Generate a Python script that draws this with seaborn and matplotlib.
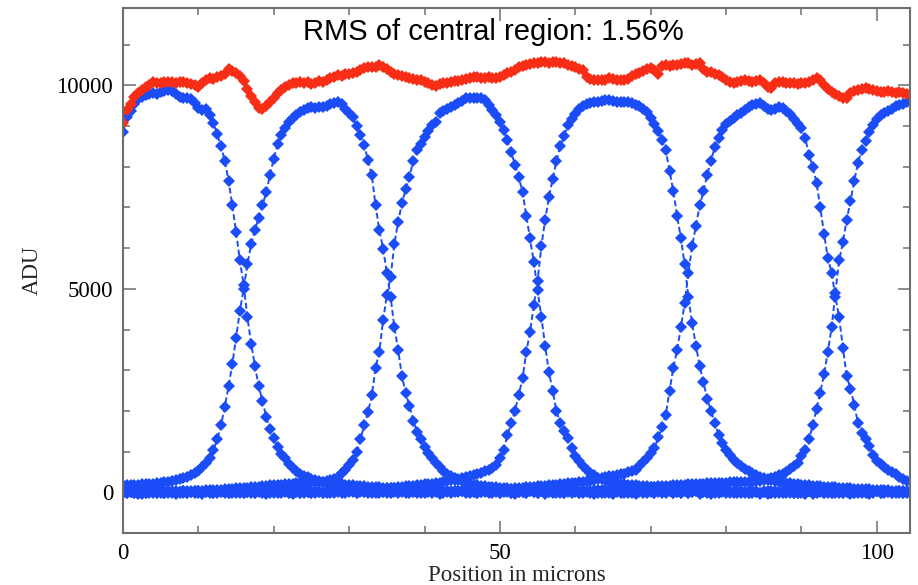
import numpy as np
import pandas as pd
import matplotlib
matplotlib.use("Agg")
import matplotlib.pyplot as plt
from matplotlib.ticker import MultipleLocator
import seaborn as sns

# Scan step along the slit (microns); one reading per step for every trace.
STEP = 0.5

# Individual diode responses (ADU) while the spot is scanned across the array.
diode_1 = [
    8850, 9210, 9380, 9550, 9660, 9720, 9760, 9780, 9800, 9790,
    9830, 9860, 9880, 9850, 9790, 9720, 9700, 9690, 9660, 9560,
    9440, 9390, 9430, 9260, 9070, 8800, 8500, 8150, 7650, 7050,
    6400, 5700, 5100, 4300, 3650, 3100, 2600, 2250, 1850, 1550,
    1330, 1110, 950, 840, 700, 600, 520, 460, 410, 370,
    330, 300, 280, 260, 240, 230, 220, 210, 200, 190,
    180, 175, 165, 160, 150, 140, 135, 125, 120, 110,
    105, 100, 95, 90, 85, 80, 75, 70, 65, 60,
    55, 50, 45, 45, 40, 35, 30, 30, 25, 20,
    20, 10, -10, 15, -20, 5, 25, -15, 0, 30,
    -25, 10, 35, -5, -30, 15, 0, -20, 25, 5,
    -10, 30, -35, 10, 20, -15, 5, -25, 15, 0,
    35, -10, -20, 25, 5, -30, 10, 20, -5, -15,
    30, 0, -25, 15, -10, 25, -30, 5, 20, -20,
    10, -5, 30, -15, 0, 20, -25, 15, -10, 35,
    -20, 5, 25, -30, 10, -5, 20, -15, 0, 30,
    -10, 15, -25, 20, 5, -20, 35, -5, 10, -30,
    25, 0, -15, 20, -25, 10, 30, -10, 5, -20,
    15, -30, 25, 0, -15, 20, 10, -25, 30, -5,
    -20, 15, 5, -30, 25, -10, 20, 0, -15, 10,
    30, -20, 5, 15, -25, 10, -5, 20, -10,
]

diode_2 = [
    170, 175, 180, 185, 190, 195, 200, 210, 215, 225,
    235, 245, 260, 275, 295, 320, 345, 380, 420, 470,
    530, 620, 720, 850, 1050, 1300, 1650, 2100, 2600, 3150,
    3800, 4450, 5000, 5600, 6100, 6450, 6750, 7050, 7370, 7800,
    8200, 8550, 8780, 8940, 9100, 9200, 9280, 9340, 9400, 9440,
    9460, 9440, 9470, 9460, 9500, 9540, 9560, 9580, 9540, 9430,
    9330, 9210, 9000, 8780, 8530, 8160, 7790, 7050, 6450, 5990,
    5400, 4800, 4050, 3500, 2850, 2450, 2120, 1760, 1480, 1300,
    1110, 970, 840, 720, 610, 530, 460, 410, 340, 300,
    270, 240, 210, 190, 170, 160, 150, 140, 130, 120,
    110, 105, 95, 90, 80, 75, 70, 60, 55, 50,
    45, 40, 35, 30, 25, 20, -10, 15, 25, -20,
    5, -25, 20, 10, -15, 30, -5, -20, 15, 0,
    -30, 20, 10, -10, 25, -20, 5, 30, -15, 0,
    20, -25, 10, 0, -20, 35, -10, 15, -5, 25,
    -15, 0, 20, -25, 15, 5, -30, 25, -10, 10,
    20, -20, 0, 30, -15, 10, -25, 20, 5, -10,
    15, -30, 25, -5, 10, -20, 20, 0, -15, 30,
    -10, 5, 20, -25, 15, 0, -20, 25, -5, 10,
    30, -15, 0, 20, -25, 10, 15, -20, 5, -10,
    20, 0, -25, 15, 10, -15, 25, -5, 0,
]

diode_3 = [
    15, -20, 10, 25, -10, 5, -25, 20, 0, -15,
    30, -5, 10, -20, 25, 5, 20, 15, 30, 25,
    35, 40, 45, 50, 55, 60, 65, 70, 80, 90,
    95, 100, 110, 115, 125, 130, 140, 150, 160, 170,
    180, 185, 190, 200, 205, 210, 220, 225, 235, 240,
    250, 255, 260, 265, 275, 290, 320, 380, 470, 560,
    680, 800, 980, 1300, 1650, 1970, 2380, 3050, 3450, 4230,
    4840, 5300, 6100, 6650, 7100, 7450, 7750, 8150, 8400, 8560,
    8720, 8880, 9020, 9110, 9310, 9380, 9420, 9470, 9520, 9560,
    9620, 9680, 9690, 9700, 9700, 9680, 9630, 9520, 9390, 9260,
    9100, 8900, 8650, 8350, 8050, 7750, 7370, 6800, 6240, 5650,
    4960, 4300, 3600, 2950, 2500, 2000, 1700, 1500, 1330, 1100,
    900, 770, 650, 560, 480, 420, 360, 320, 290, 260,
    240, 225, 210, 200, 190, 180, 170, 160, 155, 150,
    140, 135, 125, 120, 110, 105, 100, 95, 90, 80,
    75, 70, 65, 60, 55, 50, 40, 45, 35, 30,
    20, 35, 10, -15, 25, 0, -20, 15, 30, -10,
    5, 20, -25, 10, 0, 25, -15, 30, -5, -20,
    15, 0, 25, -30, 10, 20, -10, 5, -25, 30,
    0, -15, 20, 10, -20, 25, -5, 15, -30, 5,
    20, -10, 0, 25, -20, 10, 15, -25, 5,
]

diode_4 = [
    -10, 20, 5, -25, 15, 30, -15, 0, 25, -20,
    10, -5, 20, 15, -30, 5, 25, -10, 0, 20,
    -20, 15, 30, -5, 10, -25, 20, 5, -15, 25,
    0, -10, 30, 15, -20, 10, 25, -5, 5, 20,
    -15, 30, 0, 10, -25, 20, 15, -10, 25, 5,
    -20, 10, 30, -5, 15, 0, 20, 25, 10, 30,
    35, 40, 45, 50, 55, 60, 70, 75, 85, 90,
    100, 110, 115, 125, 135, 145, 155, 165, 175, 185,
    195, 205, 215, 225, 240, 255, 270, 290, 310, 335,
    360, 380, 400, 420, 450, 480, 520, 560, 600, 680,
    840, 1050, 1400, 1700, 2000, 2400, 2800, 3450, 3950, 4600,
    5200, 6050, 6700, 7250, 7700, 8150, 8500, 8750, 9020, 9170,
    9300, 9420, 9480, 9530, 9560, 9590, 9600, 9620, 9630, 9640,
    9610, 9600, 9580, 9590, 9580, 9560, 9520, 9480, 9420, 9350,
    9200, 9050, 8870, 8650, 8400, 7900, 7400, 6800, 6250, 5600,
    4800, 4150, 3600, 3100, 2700, 2300, 2000, 1700, 1420, 1200,
    1050, 920, 800, 710, 640, 580, 520, 470, 420, 370,
    340, 310, 290, 270, 250, 240, 230, 220, 210, 200,
    190, 180, 175, 165, 160, 150, 140, 135, 125, 120,
    110, 105, 100, 95, 90, 85, 80, 75, 70, 65,
    60, 55, 50, 45, 40, 40, 35, 30, 30,
]

diode_5 = [
    25, -15, 0, 20, -30, 10, 15, -20, 5, 30,
    -10, 20, -25, 0, 15, -5, 30, -15, 10, 0,
    20, -30, 15, 5, -10, 25, 0, -20, 30, -5,
    10, 20, -25, 15, 0, -15, 25, 10, -30, 5,
    20, -10, 0, 30, -20, 15, 5, -25, 20, 10,
    -15, 25, 0, -5, 30, -20, 10, 15, -25, 5,
    20, 0, -15, 25, 10, -20, 30, -5, 15, 0,
    -25, 20, 5, -10, 30, 15, -20, 0, 25, -10,
    10, 30, -15, 5, 20, -25, 15, 0, 30, 20,
    25, 30, 35, 40, 45, 50, 55, 60, 65, 70,
    75, 80, 85, 90, 100, 105, 110, 120, 125, 135,
    145, 150, 160, 170, 180, 190, 200, 210, 220, 230,
    240, 250, 260, 270, 285, 300, 320, 340, 365, 390,
    400, 420, 440, 460, 490, 520, 560, 650, 740, 840,
    960, 1080, 1350, 1600, 1900, 2500, 3050, 3500, 4050, 4640,
    5400, 6050, 6550, 7050, 7400, 7800, 8150, 8480, 8700, 8900,
    9050, 9120, 9200, 9270, 9320, 9400, 9460, 9510, 9550, 9570,
    9500, 9420, 9390, 9430, 9460, 9440, 9380, 9300, 9180, 9050,
    8950, 8700, 8300, 8000, 7600, 7000, 6350, 5750, 5400, 4800,
    4300, 3550, 2850, 2550, 2150, 1700, 1450, 1300, 1130, 920,
    780, 690, 620, 560, 500, 450, 380, 330, 280,
]

diode_6 = [
    -20, 10, 25, -5, 15, -30, 20, 5, -15, 30,
    0, -25, 15, 20, -10, 5, -20, 25, 10, -5,
    30, -15, 5, 20, -25, 10, 0, 15, -10, 25,
    -5, 20, -20, 10, 30, -15, 5, 0, 25, -25,
    15, 5, -10, 20, 0, -30, 25, 10, -15, 5,
    20, -20, 15, 0, -10, 30, -5, 20, 10, -25,
    5, 25, -15, 10, 0, 20, -20, 30, -5, 15,
    10, -25, 20, 0, 15, -10, 25, 5, -20, 30,
    -5, 15, 0, 20, -30, 10, 25, -15, 5, 0,
    20, -10, 30, 5, -20, 15, 0, 25, -15, 10,
    -5, 20, 10, -25, 30, 0, 15, -10, 20, 5,
    -20, 25, 0, 10, -15, 30, 5, -5, 20, 25,
    20, 25, 30, 35, 40, 45, 50, 55, 60, 65,
    70, 75, 80, 90, 95, 100, 110, 115, 120, 130,
    135, 140, 150, 155, 160, 165, 175, 180, 185, 190,
    195, 200, 205, 210, 215, 220, 225, 230, 235, 240,
    240, 245, 245, 250, 250, 255, 260, 265, 270, 280,
    300, 320, 350, 380, 420, 460, 510, 570, 640, 730,
    880, 1050, 1300, 1650, 2050, 2450, 2900, 3450, 4050, 4900,
    5700, 6150, 6700, 7150, 7650, 8100, 8420, 8620, 8850, 9020,
    9180, 9260, 9320, 9380, 9430, 9480, 9520, 9550, 9580,
]

# Combined signal of all diodes (ADU).
combined = [
    9066, 9386, 9550, 9705, 9800, 9880, 9950, 10000, 10074, 10050,
    10060, 10080, 10070, 10090, 10060, 10080, 10070, 10060, 10040, 10000,
    9950, 10050, 10120, 10170, 10150, 10200, 10220, 10280, 10390, 10360,
    10300, 10220, 10100, 9900, 9750, 9600, 9450, 9430, 9500, 9600,
    9700, 9800, 9880, 9950, 10000, 10050, 10060, 10070, 10050, 10080,
    10040, 10060, 10100, 10080, 10130, 10170, 10200, 10250, 10240, 10270,
    10290, 10300, 10340, 10380, 10420, 10440, 10460, 10450, 10490, 10460,
    10400, 10330, 10290, 10250, 10220, 10200, 10180, 10150, 10130, 10120,
    10080, 10050, 10010, 9990, 10030, 10050, 10060, 10080, 10100, 10110,
    10130, 10160, 10190, 10200, 10210, 10190, 10180, 10200, 10170, 10180,
    10200, 10250, 10300, 10330, 10380, 10440, 10480, 10500, 10520, 10550,
    10560, 10570, 10580, 10560, 10570, 10580, 10560, 10540, 10510, 10480,
    10450, 10400, 10370, 10200, 10150, 10130, 10120, 10140, 10130, 10170,
    10150, 10130, 10120, 10120, 10160, 10220, 10270, 10300, 10350, 10400,
    10420, 10380, 10290, 10480, 10490, 10480, 10500, 10490, 10520, 10540,
    10540, 10500, 10520, 10540, 10400, 10330, 10320, 10290, 10260, 10200,
    10130, 10070, 10050, 10080, 10100, 10120, 10100, 10090, 10110, 10120,
    10050, 9960, 9930, 10060, 10080, 10070, 10060, 10050, 10060, 10040,
    10050, 10060, 10080, 10130, 10170, 10120, 10020, 9920, 9830, 9780,
    9750, 9700, 9680, 9800, 9870, 9890, 9920, 9930, 9900, 9880,
    9850, 9830, 9840, 9850, 9830, 9820, 9830, 9810, 9780,
]

TITLE = "RMS of central region: 1.56%"
X_LABEL = "Position in microns"
Y_LABEL = "ADU"

BLUE = "#1a4cf7"
RED = "#f72d16"
FRAME = "#6e6e6e"

diodes = [diode_1, diode_2, diode_3, diode_4, diode_5, diode_6]
n = len(combined)
assert all(len(d) == n for d in diodes)
position = np.arange(n) * STEP

diode_df = pd.concat(
    [pd.DataFrame({"position": position, "adu": d, "diode": i + 1})
     for i, d in enumerate(diodes)],
    ignore_index=True,
)
sum_df = pd.DataFrame({"position": position, "adu": combined})

sns.set_style("ticks")
plt.rcParams["font.family"] = ["Liberation Serif", "DejaVu Serif"]

fig = plt.figure(figsize=(9.18, 5.85), dpi=100)
ax = fig.add_axes([0.134, 0.0889, 0.8573, 0.8974])

line_kw = dict(linestyle=(0, (3, 1.6)), linewidth=1.4, marker="D",
               markersize=6.3, markeredgewidth=0)

sns.lineplot(data=diode_df, x="position", y="adu", units="diode",
             estimator=None, color=BLUE, ax=ax, legend=False, **line_kw)
sns.lineplot(data=sum_df, x="position", y="adu", estimator=None,
             color=RED, ax=ax, legend=False, **line_kw)

ax.set_xlim(0, 104.4)
ax.set_ylim(-1000, 11900)
ax.xaxis.set_major_locator(MultipleLocator(50))
ax.xaxis.set_minor_locator(MultipleLocator(10))
ax.yaxis.set_major_locator(MultipleLocator(5000))
ax.yaxis.set_minor_locator(MultipleLocator(1000))

ax.tick_params(which="both", direction="in", top=True, right=True,
               color=FRAME, width=1.1, labelsize=16.5, labelcolor="black")
ax.tick_params(which="major", length=9, pad=7)
ax.tick_params(which="minor", length=5)
for side in ax.spines.values():
    side.set_visible(True)
    side.set_color(FRAME)
    side.set_linewidth(1.5)

ax.set_xlabel(X_LABEL, fontsize=16.5, labelpad=1)
ax.set_ylabel(Y_LABEL, fontsize=16.5, labelpad=10)

fig.text(0.537, 0.945, TITLE, ha="center", va="center", fontsize=21,
         family=["Liberation Sans", "DejaVu Sans"], color="black")

fig.savefig("out.png", dpi=100)
